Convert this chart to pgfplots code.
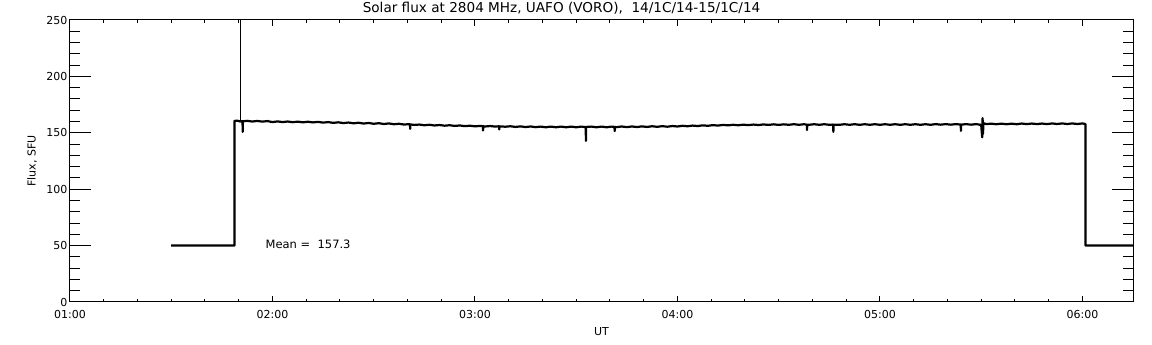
\documentclass[border=0pt]{standalone}
\usepackage{fontspec}
\setmainfont{DejaVu Sans}
\usepackage{pgfplots}
\pgfplotsset{compat=1.18}
\begin{document}
\begin{tikzpicture}[x=1pt,y=1pt]
\path[use as bounding box] (-70pt,-43pt) rectangle (1082pt,302pt);
% axis carrying y ticks
\begin{axis}[
  at={(0,0)}, anchor=south west,
  scale only axis, width=1063pt, height=282pt,
  xmin=1, xmax=6.25, ymin=0, ymax=250,
  xtick=\empty,
  ytick={0,50,100,150,200,250},
  minor y tick num=4,
  tick align=inside,
  major tick length=21pt, minor tick length=10.5pt,
  axis line style={line width=1pt},
  every tick/.style={black,line width=1pt},
  /pgf/number format/assume math mode=true,
  yticklabel style={font=\fontsize{11}{13}\selectfont, xshift=1pt},
]
\end{axis}
% axis carrying x ticks and data
\begin{axis}[
  at={(0,0)}, anchor=south west,
  scale only axis, width=1063pt, height=282pt,
  xmin=1, xmax=6.25, ymin=0, ymax=250,
  ytick=\empty,
  xtick={1,2,3,4,5,6},
  xticklabels={01:00,02:00,03:00,04:00,05:00,06:00},
  minor x tick num=5,
  tick align=inside,
  major tick length=5.6pt, minor tick length=2.8pt,
  axis line style={line width=1pt},
  every tick/.style={black,line width=1pt},
  xticklabel style={font=\fontsize{11}{13}\selectfont, yshift=-5pt},
  clip mode=individual,
]
\addplot[black, line width=2.2pt, line join=round] coordinates {
(1.5,50) (1.812,50) (1.812,160.5) (1.825,160.8) (1.838,160.2) (1.839,160.2)
};
\addplot[black, line width=1pt] coordinates {(1.840,160.2) (1.840,252)};
\addplot[black, line width=2.2pt, line join=round] coordinates {
(1.841,160.2) (1.842,160.0) (1.852,160.4) (1.853,150.8) (1.854,160.2)
(1.875,160.6) (1.9,160.0) (1.925,160.5) (1.95,159.9) (1.975,160.4) (2.0,159.5) (2.025,160.1) (2.05,159.5) (2.075,160.0) (2.1,159.4)
(2.125,159.9) (2.15,159.3) (2.175,159.8) (2.2,159.2) (2.225,159.7) (2.25,159.0) (2.275,159.5) (2.3,158.8) (2.325,159.3) (2.35,158.6)
(2.375,159.1) (2.4,158.4) (2.425,158.9) (2.45,158.2) (2.475,158.7) (2.5,158.0) (2.525,158.5) (2.55,157.8) (2.575,158.3) (2.6,157.6)
(2.625,158.0) (2.65,157.3) (2.675,157.7) (2.679,157.5) (2.68,153.5) (2.681,157.4) (2.7,157.0) (2.725,157.3) (2.75,156.7) (2.775,157.1)
(2.8,156.5) (2.825,156.9) (2.85,156.3) (2.875,156.7) (2.9,156.1) (2.925,156.5) (2.95,155.9) (2.975,156.3) (3.0,155.7) (3.025,156.1)
(3.039,155.9) (3.04,152.0) (3.041,155.8) (3.05,155.6) (3.075,156.0) (3.1,155.5) (3.119,155.8) (3.12,153.0) (3.121,155.7) (3.15,155.4)
(3.175,155.8) (3.2,155.2) (3.225,155.7) (3.25,155.1) (3.275,155.6) (3.3,155.0) (3.325,155.5) (3.35,154.9) (3.375,155.5) (3.4,154.9)
(3.425,155.5) (3.45,154.9) (3.475,155.5) (3.5,154.9) (3.525,155.5) (3.547,155.0) (3.548,142.8) (3.549,155.2) (3.575,155.5) (3.6,154.9)
(3.625,155.5) (3.65,154.9) (3.675,155.5) (3.689,155.2) (3.69,151.5) (3.691,155.1) (3.7,155.0) (3.725,155.6) (3.75,155.0) (3.775,155.6)
(3.8,155.1) (3.825,155.7) (3.85,155.2) (3.875,155.8) (3.9,155.3) (3.925,155.9) (3.95,155.4) (3.975,156.0) (4.0,155.6) (4.025,156.2)
(4.05,155.8) (4.075,156.4) (4.1,156.0) (4.125,156.6) (4.15,156.2) (4.175,156.8) (4.2,156.4) (4.225,157.0) (4.25,156.6) (4.275,157.1)
(4.3,156.7) (4.325,157.2) (4.35,156.8) (4.375,157.3) (4.4,156.9) (4.425,157.4) (4.45,157.0) (4.475,157.5) (4.5,157.0) (4.525,157.5)
(4.55,157.1) (4.575,157.6) (4.6,157.1) (4.625,157.6) (4.639,157.2) (4.64,152.5) (4.641,157.1) (4.65,157.1) (4.675,157.6) (4.7,157.1)
(4.725,157.6) (4.75,157.1) (4.769,157.3) (4.77,150.8) (4.771,157.2) (4.8,157.1) (4.825,157.6) (4.85,157.1) (4.875,157.6) (4.9,157.1)
(4.925,157.6) (4.95,157.1) (4.975,157.6) (5.0,157.1) (5.025,157.6) (5.05,157.1) (5.075,157.6) (5.1,157.1) (5.125,157.6) (5.15,157.1)
(5.175,157.6) (5.2,157.1) (5.225,157.6) (5.25,157.1) (5.275,157.7) (5.3,157.2) (5.325,157.7) (5.35,157.2) (5.375,157.7) (5.399,157.3)
(5.4,151.7) (5.401,157.2) (5.425,157.7) (5.45,157.2) (5.475,157.7) (5.5,157.0) (5.505,146.0) (5.507,163.0) (5.509,149.0) (5.511,158.5)
(5.525,157.7) (5.55,158.1) (5.575,157.6) (5.6,158.1) (5.625,157.6) (5.65,158.1) (5.675,157.6) (5.7,158.2) (5.725,157.7) (5.75,158.2)
(5.775,157.7) (5.8,158.2) (5.825,157.7) (5.85,158.3) (5.875,157.8) (5.9,158.3) (5.925,157.8) (5.95,158.3) (5.975,157.8) (6.0,158.3)
(6.012,157.9) (6.015,157.9) (6.015,50) (6.25,50)
};
\node[anchor=west, font=\fontsize{11.5}{13}\selectfont] at (axis cs:1.949,51) {Mean =\ \ 157.3};
\node[font=\fontsize{13.6}{15}\selectfont] at ([yshift=12pt]rel axis cs:0.4624,1) {Solar flux at 2804 MHz, UAFO (VORO),\ \ 14/1C/14{-}15/1C/14};
\node[font=\fontsize{11}{13}\selectfont] at ([yshift=-30pt]rel axis cs:0.5,0) {UT};
\node[font=\fontsize{11}{13}\selectfont, rotate=90] at ([xshift=-38pt]rel axis cs:0,0.5) {Flux, SFU};
\end{axis}
\end{tikzpicture}
\end{document}
